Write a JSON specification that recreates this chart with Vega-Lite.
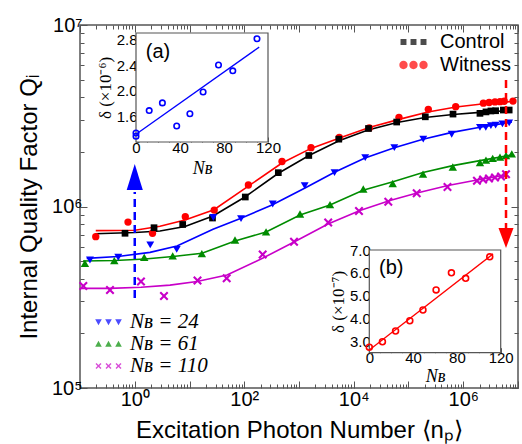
{
  "$schema": "https://vega.github.io/schema/vega-lite/v6.json",
  "width": 438,
  "height": 363,
  "autosize": {"type": "none"},
  "padding": {"left": 80, "top": 25, "right": 4, "bottom": 56},
  "background": "white",
  "config": {
    "view": {"stroke": "#555555", "strokeWidth": 1.5},
    "axis": {"grid": false, "domain": false, "tickColor": "#555555", "tickWidth": 1, "labelColor": "black", "titleColor": "black", "labelFont": "Liberation Sans", "titleFont": "Liberation Sans", "titleFontWeight": "normal", "minExtent": 0, "labelOverlap": false, "labelFlush": false},
    "legend": {"labelFont": "Liberation Sans", "labelColor": "black"}
  },
  "datasets": {
    "pts": [
      {"series": "Witness", "n": 0.194, "q": 682000}, {"series": "Witness", "n": 0.753, "q": 821000}, {"series": "Witness", "n": 2.11, "q": 712000}, {"series": "Witness", "n": 8.38, "q": 879000}, {"series": "Witness", "n": 28.3, "q": 956000}, {"series": "Witness", "n": 119, "q": 1314000}, {"series": "Witness", "n": 489, "q": 1770000}, {"series": "Witness", "n": 1656, "q": 2110000}, {"series": "Witness", "n": 5445, "q": 2400000}, {"series": "Witness", "n": 19230, "q": 2710000}, {"series": "Witness", "n": 67000, "q": 3100000}, {"series": "Witness", "n": 230100, "q": 3430000}, {"series": "Witness", "n": 728000, "q": 3550000}, {"series": "Witness", "n": 2330000, "q": 3710000}, {"series": "Witness", "n": 2970000, "q": 3740000}, {"series": "Witness", "n": 3800000, "q": 3770000}, {"series": "Witness", "n": 4690000, "q": 3780000}, {"series": "Witness", "n": 5600000, "q": 3800000}, {"series": "Witness", "n": 8100000, "q": 3810000},
      {"series": "Control", "n": 0.664, "q": 712000}, {"series": "Control", "n": 2.25, "q": 764000}, {"series": "Control", "n": 7.51, "q": 796000}, {"series": "Control", "n": 26.3, "q": 864000}, {"series": "Control", "n": 104.5, "q": 1128000}, {"series": "Control", "n": 419, "q": 1536000}, {"series": "Control", "n": 1510, "q": 1910000}, {"series": "Control", "n": 5333, "q": 2350000}, {"series": "Control", "n": 18580, "q": 2690000}, {"series": "Control", "n": 60840, "q": 2920000}, {"series": "Control", "n": 202800, "q": 3120000}, {"series": "Control", "n": 650000, "q": 3230000}, {"series": "Control", "n": 2020000, "q": 3260000}, {"series": "Control", "n": 2600000, "q": 3320000}, {"series": "Control", "n": 3200000, "q": 3360000}, {"series": "Control", "n": 3900000, "q": 3370000}, {"series": "Control", "n": 5400000, "q": 3400000}, {"series": "Control", "n": 6900000, "q": 3400000},
      {"series": "Nʙ = 24", "n": 0.152, "q": 507000}, {"series": "Nʙ = 24", "n": 0.5, "q": 525000}, {"series": "Nʙ = 24", "n": 1.92, "q": 614000}, {"series": "Nʙ = 24", "n": 5.84, "q": 581000}, {"series": "Nʙ = 24", "n": 27.2, "q": 870000}, {"series": "Nʙ = 24", "n": 87.3, "q": 857000}, {"series": "Nʙ = 24", "n": 331, "q": 1032000}, {"series": "Nʙ = 24", "n": 1271, "q": 1302000}, {"series": "Nʙ = 24", "n": 4450, "q": 1536000}, {"series": "Nʙ = 24", "n": 16200, "q": 1860000}, {"series": "Nʙ = 24", "n": 55080, "q": 2110000}, {"series": "Nʙ = 24", "n": 186000, "q": 2350000}, {"series": "Nʙ = 24", "n": 615000, "q": 2500000}, {"series": "Nʙ = 24", "n": 2020000, "q": 2730000}, {"series": "Nʙ = 24", "n": 2580000, "q": 2730000}, {"series": "Nʙ = 24", "n": 3200000, "q": 2790000}, {"series": "Nʙ = 24", "n": 3900000, "q": 2810000}, {"series": "Nʙ = 24", "n": 5200000, "q": 2850000}, {"series": "Nʙ = 24", "n": 6900000, "q": 2890000},
      {"series": "Nʙ = 61", "n": 0.123, "q": 486000}, {"series": "Nʙ = 61", "n": 0.423, "q": 503000}, {"series": "Nʙ = 61", "n": 1.49, "q": 525000}, {"series": "Nʙ = 61", "n": 4.93, "q": 534000}, {"series": "Nʙ = 61", "n": 16.8, "q": 550000}, {"series": "Nʙ = 61", "n": 67.8, "q": 654000}, {"series": "Nʙ = 61", "n": 250, "q": 724000}, {"series": "Nʙ = 61", "n": 1043, "q": 909000}, {"series": "Nʙ = 61", "n": 3683, "q": 1023000}, {"series": "Nʙ = 61", "n": 14930, "q": 1249000}, {"series": "Nʙ = 61", "n": 51400, "q": 1339000}, {"series": "Nʙ = 61", "n": 184000, "q": 1507000}, {"series": "Nʙ = 61", "n": 644000, "q": 1650000}, {"series": "Nʙ = 61", "n": 2020000, "q": 1743000}, {"series": "Nʙ = 61", "n": 2600000, "q": 1800000}, {"series": "Nʙ = 61", "n": 3450000, "q": 1840000}, {"series": "Nʙ = 61", "n": 4690000, "q": 1870000}, {"series": "Nʙ = 61", "n": 6040000, "q": 1910000}, {"series": "Nʙ = 61", "n": 7700000, "q": 1950000},
      {"series": "Nʙ = 110", "n": 0.115, "q": 365000}, {"series": "Nʙ = 110", "n": 0.353, "q": 347000}, {"series": "Nʙ = 110", "n": 1.3, "q": 386000}, {"series": "Nʙ = 110", "n": 3.42, "q": 321000}, {"series": "Nʙ = 110", "n": 14.0, "q": 391000}, {"series": "Nʙ = 110", "n": 47.8, "q": 402000}, {"series": "Nʙ = 110", "n": 217, "q": 544000}, {"series": "Nʙ = 110", "n": 811, "q": 640000}, {"series": "Nʙ = 110", "n": 3414, "q": 816000}, {"series": "Nʙ = 110", "n": 12470, "q": 945000}, {"series": "Nʙ = 110", "n": 42760, "q": 1063000}, {"series": "Nʙ = 110", "n": 141200, "q": 1182000}, {"series": "Nʙ = 110", "n": 515400, "q": 1281000}, {"series": "Nʙ = 110", "n": 1780000, "q": 1388000}, {"series": "Nʙ = 110", "n": 2300000, "q": 1409000}, {"series": "Nʙ = 110", "n": 2950000, "q": 1427000}, {"series": "Nʙ = 110", "n": 3800000, "q": 1445000}, {"series": "Nʙ = 110", "n": 4900000, "q": 1463000}, {"series": "Nʙ = 110", "n": 6040000, "q": 1505000}
    ],
    "fit": [
      {"series": "Witness", "n": 0.194, "q": 736000}, {"series": "Witness", "n": 1.01, "q": 740000}, {"series": "Witness", "n": 2.89, "q": 778000}, {"series": "Witness", "n": 8.28, "q": 843000}, {"series": "Witness", "n": 28.0, "q": 960000}, {"series": "Witness", "n": 117, "q": 1290000}, {"series": "Witness", "n": 489, "q": 1737000}, {"series": "Witness", "n": 1656, "q": 2090000}, {"series": "Witness", "n": 5848, "q": 2400000}, {"series": "Witness", "n": 19800, "q": 2730000}, {"series": "Witness", "n": 70000, "q": 3030000}, {"series": "Witness", "n": 227000, "q": 3320000}, {"series": "Witness", "n": 738000, "q": 3530000}, {"series": "Witness", "n": 2390000, "q": 3680000}, {"series": "Witness", "n": 7760000, "q": 3790000},
      {"series": "Control", "n": 0.188, "q": 708000}, {"series": "Control", "n": 1.01, "q": 719000}, {"series": "Control", "n": 2.89, "q": 733000}, {"series": "Control", "n": 8.28, "q": 776000}, {"series": "Control", "n": 26.9, "q": 887000}, {"series": "Control", "n": 103, "q": 1128000}, {"series": "Control", "n": 413, "q": 1520000}, {"series": "Control", "n": 1523, "q": 1910000}, {"series": "Control", "n": 5383, "q": 2300000}, {"series": "Control", "n": 18200, "q": 2640000}, {"series": "Control", "n": 61700, "q": 2900000}, {"series": "Control", "n": 200000, "q": 3090000}, {"series": "Control", "n": 650000, "q": 3210000}, {"series": "Control", "n": 2020000, "q": 3300000}, {"series": "Control", "n": 7140000, "q": 3380000},
      {"series": "Nʙ = 24", "n": 0.1325, "q": 518000}, {"series": "Nʙ = 24", "n": 0.494, "q": 530000}, {"series": "Nʙ = 24", "n": 1.9, "q": 559000}, {"series": "Nʙ = 24", "n": 5.91, "q": 606000}, {"series": "Nʙ = 24", "n": 26.9, "q": 749000}, {"series": "Nʙ = 24", "n": 87.3, "q": 861000}, {"series": "Nʙ = 24", "n": 321, "q": 1019000}, {"series": "Nʙ = 24", "n": 1288, "q": 1264000}, {"series": "Nʙ = 24", "n": 4546, "q": 1550000}, {"series": "Nʙ = 24", "n": 16040, "q": 1850000}, {"series": "Nʙ = 24", "n": 55080, "q": 2110000}, {"series": "Nʙ = 24", "n": 184000, "q": 2350000}, {"series": "Nʙ = 24", "n": 623000, "q": 2560000}, {"series": "Nʙ = 24", "n": 2020000, "q": 2730000}, {"series": "Nʙ = 24", "n": 7760000, "q": 2920000},
      {"series": "Nʙ = 61", "n": 0.1135, "q": 501000}, {"series": "Nʙ = 61", "n": 0.435, "q": 504000}, {"series": "Nʙ = 61", "n": 1.54, "q": 514000}, {"series": "Nʙ = 61", "n": 5.0, "q": 530000}, {"series": "Nʙ = 61", "n": 16.9, "q": 552000}, {"series": "Nʙ = 61", "n": 67.8, "q": 645000}, {"series": "Nʙ = 61", "n": 250, "q": 724000}, {"series": "Nʙ = 61", "n": 1043, "q": 898000}, {"series": "Nʙ = 61", "n": 3683, "q": 1020000}, {"series": "Nʙ = 61", "n": 14760, "q": 1230000}, {"series": "Nʙ = 61", "n": 52100, "q": 1370000}, {"series": "Nʙ = 61", "n": 184000, "q": 1540000}, {"series": "Nʙ = 61", "n": 644000, "q": 1680000}, {"series": "Nʙ = 61", "n": 2020000, "q": 1790000}, {"series": "Nʙ = 61", "n": 7760000, "q": 1920000},
      {"series": "Nʙ = 110", "n": 0.107, "q": 354000}, {"series": "Nʙ = 110", "n": 0.353, "q": 354000}, {"series": "Nʙ = 110", "n": 1.3, "q": 359000}, {"series": "Nʙ = 110", "n": 4.4, "q": 369000}, {"series": "Nʙ = 110", "n": 13.7, "q": 386000}, {"series": "Nʙ = 110", "n": 48.4, "q": 419000}, {"series": "Nʙ = 110", "n": 220, "q": 520000}, {"series": "Nʙ = 110", "n": 811, "q": 638000}, {"series": "Nʙ = 110", "n": 3388, "q": 801000}, {"series": "Nʙ = 110", "n": 13000, "q": 951000}, {"series": "Nʙ = 110", "n": 45900, "q": 1079000}, {"series": "Nʙ = 110", "n": 143000, "q": 1187000}, {"series": "Nʙ = 110", "n": 526000, "q": 1305000}, {"series": "Nʙ = 110", "n": 1780000, "q": 1400000}, {"series": "Nʙ = 110", "n": 6040000, "q": 1490000}
    ],
    "arrows": [
      {"dir": "up", "n": 1, "q": 313000, "q2": 1202000},
      {"dir": "down", "n": 6040000, "q": 4980000, "q2": 761000}
    ],
    "heads": [
      {"dir": "up", "n": 1, "q": 1454000},
      {"dir": "down", "n": 6040000, "q": 671000}
    ],
    "insetA": [
      {"nb": 0, "d": 1.34}, {"nb": 0, "d": 1.29}, {"nb": 12, "d": 1.69}, {"nb": 24, "d": 1.81}, {"nb": 37, "d": 1.45}, {"nb": 49, "d": 1.64}, {"nb": 61, "d": 1.98}, {"nb": 75, "d": 2.4}, {"nb": 88, "d": 2.31}, {"nb": 110, "d": 2.81}
    ],
    "fitA": [{"nb": 0, "d": 1.32}, {"nb": 112, "d": 2.68}],
    "frameA": [{"nb": 0, "nb2": 120, "d": 1.2, "d2": 2.9}],
    "labelA": [{"nb": 20, "d": 2.6, "label": "(a)"}],
    "insetB": [
      {"nb": 0, "d": 2.74}, {"nb": 12, "d": 2.98}, {"nb": 24, "d": 3.45}, {"nb": 37, "d": 3.9}, {"nb": 49, "d": 4.37}, {"nb": 61, "d": 5.25}, {"nb": 75, "d": 6.0}, {"nb": 88, "d": 5.76}, {"nb": 110, "d": 6.7}
    ],
    "fitB": [{"nb": 0, "d": 2.62}, {"nb": 113, "d": 6.83}],
    "frameB": [{"nb": 0, "nb2": 120, "d": 2.5, "d2": 7.0}],
    "labelB": [{"nb": 20, "d": 6.2, "label": "(b)"}]
  },
  "layer": [
    {
      "encoding": {
        "x": {"field": "n", "type": "quantitative", "scale": {"type": "log", "domain": [0.1, 10000000], "nice": false},
          "axis": {"orient": "bottom", "title": "Excitation Photon Number  ⟨nₚ⟩", "titleFontSize": 24, "titlePadding": 6, "labelFontSize": 20, "labelPadding": 8,
            "values": [0.1,0.2,0.3,0.4,0.5,0.6,0.7,0.8,0.9,1,2,3,4,5,6,7,8,9,10,20,30,40,50,60,70,80,90,100,200,300,400,500,600,700,800,900,1000,2000,3000,4000,5000,6000,7000,8000,9000,10000,20000,30000,40000,50000,60000,70000,80000,90000,100000,200000,300000,400000,500000,600000,700000,800000,900000,1000000,2000000,3000000,4000000,5000000,6000000,7000000,8000000,9000000,10000000],
            "tickSize": {"condition": {"test": "abs(log(datum.value)/LN10 - round(log(datum.value)/LN10)) < 0.001", "value": -7}, "value": -4},
            "labelExpr": "(abs(log(datum.value)/LN10 - round(log(datum.value)/LN10)) < 0.001 && round(log(datum.value)/LN10) % 2 == 0 && datum.value >= 1 && datum.value <= 1000001) ? '10' + substring('⁰¹²³⁴⁵⁶⁷', round(log(datum.value)/LN10), round(log(datum.value)/LN10) + 1) : ''"}},
        "y": {"field": "q", "type": "quantitative", "scale": {"type": "log", "domain": [100000, 10000000], "nice": false},
          "axis": {"orient": "left", "title": "Internal Quality Factor  Qᵢ", "titleFontSize": 24, "titlePadding": 10, "labelFontSize": 20, "labelPadding": 5,
            "values": [100000,200000,300000,400000,500000,600000,700000,800000,900000,1000000,2000000,3000000,4000000,5000000,6000000,7000000,8000000,9000000,10000000],
            "tickSize": {"condition": {"test": "abs(log(datum.value)/LN10 - round(log(datum.value)/LN10)) < 0.001", "value": -7}, "value": -4},
            "labelExpr": "(abs(log(datum.value)/LN10 - round(log(datum.value)/LN10)) < 0.001) ? '10' + substring('⁰¹²³⁴⁵⁶⁷', round(log(datum.value)/LN10), round(log(datum.value)/LN10) + 1) : ''"}}
      },
      "layer": [
        {
          "data": {"name": "fit"},
          "mark": {"type": "line", "strokeWidth": 1.6},
          "encoding": {
            "color": {"field": "series", "type": "nominal", "scale": {"domain": ["Control", "Witness", "Nʙ = 24", "Nʙ = 61", "Nʙ = 110"], "range": ["#000000", "#ff0000", "#0000ff", "#008c00", "#c800c8"]}, "legend": null}
          }
        },
        {
          "data": {"name": "pts"},
          "mark": {"type": "point", "filled": true, "opacity": 1},
          "encoding": {
            "color": {"field": "series", "type": "nominal", "scale": {"domain": ["Control", "Witness", "Nʙ = 24", "Nʙ = 61", "Nʙ = 110"], "range": ["#000000", "#ff0000", "#0000ff", "#008c00", "#c800c8"]}, "legend": null},
            "shape": {"field": "series", "type": "nominal", "scale": {"domain": ["Control", "Witness", "Nʙ = 24", "Nʙ = 61", "Nʙ = 110"], "range": ["square", "circle", "triangle-down", "triangle-up", "M-1,-0.67L-0.67,-1L0,-0.33L0.67,-1L1,-0.67L0.33,0L1,0.67L0.67,1L0,0.33L-0.67,1L-1,0.67L-0.33,0Z"]}, "legend": null},
            "size": {"field": "series", "type": "nominal", "scale": {"domain": ["Control", "Witness", "Nʙ = 24", "Nʙ = 61", "Nʙ = 110"], "range": [45, 80, 55, 55, 50]}, "legend": null}
          }
        },
        {
          "data": {"name": "arrows"},
          "mark": {"type": "rule", "strokeWidth": 2.5, "strokeDash": [8, 5]},
          "encoding": {
            "y2": {"field": "q2"},
            "color": {"field": "dir", "type": "nominal", "scale": {"domain": ["up", "down"], "range": ["#0000ff", "#ff0000"]}, "legend": null}
          }
        },
        {
          "data": {"name": "heads"},
          "mark": {"type": "point", "filled": true, "opacity": 1},
          "encoding": {
            "color": {"field": "dir", "type": "nominal", "scale": {"domain": ["up", "down"], "range": ["#0000ff", "#ff0000"]}, "legend": null},
            "shape": {"field": "dir", "type": "nominal", "scale": {"domain": ["up", "down"], "range": ["M0,-1L0.62,1L-0.62,1Z", "M0,1L0.75,-1L-0.75,-1Z"]}, "legend": null},
            "size": {"field": "dir", "type": "nominal", "scale": {"domain": ["up", "down"], "range": [676, 400]}, "legend": null}
          }
        },
        {
          "data": {"values": []},
          "mark": {"type": "point", "filled": true},
          "encoding": {
            "color": {"field": "series", "type": "nominal", "scale": {"domain": ["Control", "Witness"], "range": ["#000000", "#ff0000"]},
              "legend": {"orient": "none", "legendX": 322.5, "legendY": 6, "title": null, "symbolSize": 484, "symbolStrokeWidth": 0, "labelFontSize": 20, "labelOffset": 15.5, "rowPadding": 2}},
            "shape": {"field": "series", "type": "nominal", "scale": {"domain": ["Control", "Witness"], "range": [
              "M-1.18,-0.27H-0.64V0.27H-1.18Z M-0.27,-0.27H0.27V0.27H-0.27Z M0.64,-0.27H1.18V0.27H0.64Z",
              "M-0.53,0A0.38,0.38,0,1,1,-1.29,0A0.38,0.38,0,1,1,-0.53,0Z M0.38,0A0.38,0.38,0,1,1,-0.38,0A0.38,0.38,0,1,1,0.38,0Z M1.29,0A0.38,0.38,0,1,1,0.53,0A0.38,0.38,0,1,1,1.29,0Z"]},
              "legend": {"orient": "none", "legendX": 322.5, "legendY": 6, "title": null, "symbolSize": 484, "symbolStrokeWidth": 0, "labelFontSize": 20, "labelOffset": 15.5, "rowPadding": 2}}
          }
        },
        {
          "data": {"values": []},
          "mark": {"type": "point", "filled": true},
          "encoding": {
            "color": {"field": "series", "type": "nominal", "scale": {"domain": ["Nʙ = 24", "Nʙ = 61", "Nʙ = 110"], "range": ["#0000ff", "#008c00", "#c800c8"]},
              "legend": {"orient": "none", "legendX": 17.5, "legendY": 286, "title": null, "symbolSize": 484, "symbolStrokeWidth": 0, "labelFont": "Liberation Serif", "labelFontStyle": "italic", "labelFontSize": 21, "labelOffset": 10.5, "rowPadding": 1}},
            "shape": {"field": "series", "type": "nominal", "scale": {"domain": ["Nʙ = 24", "Nʙ = 61", "Nʙ = 110"], "range": [
              "M-1.21,-0.25H-0.61L-0.91,0.3Z M-0.3,-0.25H0.3L0,0.3Z M0.61,-0.25H1.21L0.91,0.3Z",
              "M-1.21,0.25H-0.61L-0.91,-0.3Z M-0.3,0.25H0.3L0,-0.3Z M0.61,0.25H1.21L0.91,-0.3Z",
              "M-1.18,-0.18L-1.09,-0.27L-0.91,-0.09L-0.73,-0.27L-0.64,-0.18L-0.82,0L-0.64,0.18L-0.73,0.27L-0.91,0.09L-1.09,0.27L-1.18,0.18L-1,0Z M-0.27,-0.18L-0.18,-0.27L0,-0.09L0.18,-0.27L0.27,-0.18L0.09,0L0.27,0.18L0.18,0.27L0,0.09L-0.18,0.27L-0.27,0.18L-0.09,0Z M0.64,-0.18L0.73,-0.27L0.91,-0.09L1.09,-0.27L1.18,-0.18L1,0L1.18,0.18L1.09,0.27L0.91,0.09L0.73,0.27L0.64,0.18L0.82,0Z"]},
              "legend": {"orient": "none", "legendX": 17.5, "legendY": 286, "title": null, "symbolSize": 484, "symbolStrokeWidth": 0, "labelFont": "Liberation Serif", "labelFontStyle": "italic", "labelFontSize": 21, "labelOffset": 10.5, "rowPadding": 1}}
          }
        }
      ],
      "resolve": {"scale": {"color": "independent", "shape": "independent", "size": "independent"}, "legend": {"color": "independent", "shape": "independent", "size": "independent"}}
    },
    {
      "data": {"values": []},
      "mark": "point",
      "encoding": {
        "x": {"field": "n", "type": "quantitative", "scale": {"type": "log", "domain": [0.1, 10000000], "nice": false},
          "axis": {"orient": "top", "title": null, "labels": false,
            "values": [0.1,0.2,0.3,0.4,0.5,0.6,0.7,0.8,0.9,1,2,3,4,5,6,7,8,9,10,20,30,40,50,60,70,80,90,100,200,300,400,500,600,700,800,900,1000,2000,3000,4000,5000,6000,7000,8000,9000,10000,20000,30000,40000,50000,60000,70000,80000,90000,100000,200000,300000,400000,500000,600000,700000,800000,900000,1000000,2000000,3000000,4000000,5000000,6000000,7000000,8000000,9000000,10000000],
            "tickSize": {"condition": {"test": "abs(log(datum.value)/LN10 - round(log(datum.value)/LN10)) < 0.001", "value": -7}, "value": -4}}},
        "y": {"field": "q", "type": "quantitative", "scale": {"type": "log", "domain": [100000, 10000000], "nice": false},
          "axis": {"orient": "right", "title": null, "labels": false,
            "values": [100000,200000,300000,400000,500000,600000,700000,800000,900000,1000000,2000000,3000000,4000000,5000000,6000000,7000000,8000000,9000000,10000000],
            "tickSize": {"condition": {"test": "abs(log(datum.value)/LN10 - round(log(datum.value)/LN10)) < 0.001", "value": -7}, "value": -4}}}
      }
    },
    {
      "encoding": {
        "x": {"field": "nb", "type": "quantitative", "scale": {"domain": [0, 120], "range": [56, 188], "nice": false, "zero": false},
          "axis": {"orient": "bottom", "offset": -246, "title": "Nʙ", "titleFont": "Liberation Serif", "titleFontStyle": "italic", "titleFontSize": 18, "titlePadding": 2, "labelFontSize": 15, "labelPadding": 3,
            "values": [0,10,20,30,40,50,60,70,80,90,100,110,120],
            "tickSize": {"condition": {"test": "datum.value % 40 == 0", "value": -5}, "value": -3},
            "labelExpr": "datum.value % 40 == 0 ? datum.label : ''"}},
        "y": {"field": "d", "type": "quantitative", "scale": {"domain": [1.2, 2.9], "range": [117, 8], "nice": false, "zero": false},
          "axis": {"orient": "left", "offset": -56, "title": "δ (×10⁻⁶)", "titleFont": "Liberation Serif", "titleFontSize": 17, "titlePadding": 2, "labelFontSize": 15, "labelPadding": 4,
            "values": [1.2,1.3,1.4,1.5,1.6,1.7,1.8,1.9,2.0,2.1,2.2,2.3,2.4,2.5,2.6,2.7,2.8,2.9],
            "tickSize": {"condition": {"test": "indexof(['1.6','2.0','2.4','2.8'], format(datum.value, '.1f')) >= 0", "value": -5}, "value": -3},
            "labelExpr": "indexof(['1.6','2.0','2.4','2.8'], format(datum.value, '.1f')) >= 0 ? format(datum.value, '.1f') : ''"}}
      },
      "layer": [
        {
          "data": {"name": "frameA"},
          "mark": {"type": "rect", "fill": "white", "stroke": "#555555", "strokeWidth": 1.2},
          "encoding": {"x2": {"field": "nb2"}, "y2": {"field": "d2"}}
        },
        {
          "data": {"name": "fitA"},
          "mark": {"type": "line", "color": "#0000ff", "strokeWidth": 1.3}
        },
        {
          "data": {"name": "insetA"},
          "mark": {"type": "point", "color": "#0000ff", "filled": false, "size": 30, "strokeWidth": 1.6, "opacity": 1}
        },
        {
          "data": {"name": "labelA"},
          "mark": {"type": "text", "font": "Liberation Sans", "fontSize": 20, "align": "center", "baseline": "middle", "color": "black"},
          "encoding": {"text": {"field": "label"}}
        }
      ]
    },
    {
      "encoding": {
        "x": {"field": "nb", "type": "quantitative", "scale": {"domain": [0, 120], "range": [289.3, 420.7], "nice": false, "zero": false},
          "axis": {"orient": "bottom", "offset": -35.3, "title": "Nʙ", "titleFont": "Liberation Serif", "titleFontStyle": "italic", "titleFontSize": 18, "titlePadding": 0, "labelFontSize": 15, "labelPadding": 3,
            "values": [0,10,20,30,40,50,60,70,80,90,100,110,120],
            "tickSize": {"condition": {"test": "datum.value % 40 == 0", "value": -5}, "value": -3},
            "labelExpr": "datum.value % 40 == 0 ? datum.label : ''"}},
        "y": {"field": "d", "type": "quantitative", "scale": {"domain": [2.5, 7.0], "range": [327.7, 225], "nice": false, "zero": false},
          "axis": {"orient": "left", "offset": -289.3, "title": "δ (×10⁻⁷)", "titleFont": "Liberation Serif", "titleFontSize": 17, "titlePadding": 2, "labelFontSize": 15, "labelPadding": 4,
            "values": [2.5,3.0,3.5,4.0,4.5,5.0,5.5,6.0,6.5,7.0],
            "tickSize": {"condition": {"test": "datum.value % 1 == 0", "value": -5}, "value": -3},
            "labelExpr": "datum.value % 1 == 0 ? format(datum.value, '.1f') : ''"}}
      },
      "layer": [
        {
          "data": {"name": "frameB"},
          "mark": {"type": "rect", "fill": "white", "stroke": "#555555", "strokeWidth": 1.2},
          "encoding": {"x2": {"field": "nb2"}, "y2": {"field": "d2"}}
        },
        {
          "data": {"name": "fitB"},
          "mark": {"type": "line", "color": "#ff0000", "strokeWidth": 1.3}
        },
        {
          "data": {"name": "insetB"},
          "mark": {"type": "point", "color": "#ff0000", "filled": false, "size": 35, "strokeWidth": 1.6, "opacity": 1}
        },
        {
          "data": {"name": "labelB"},
          "mark": {"type": "text", "font": "Liberation Sans", "fontSize": 20, "align": "center", "baseline": "middle", "color": "black"},
          "encoding": {"text": {"field": "label"}}
        }
      ]
    }
  ],
  "resolve": {"scale": {"x": "independent", "y": "independent"}}
}
